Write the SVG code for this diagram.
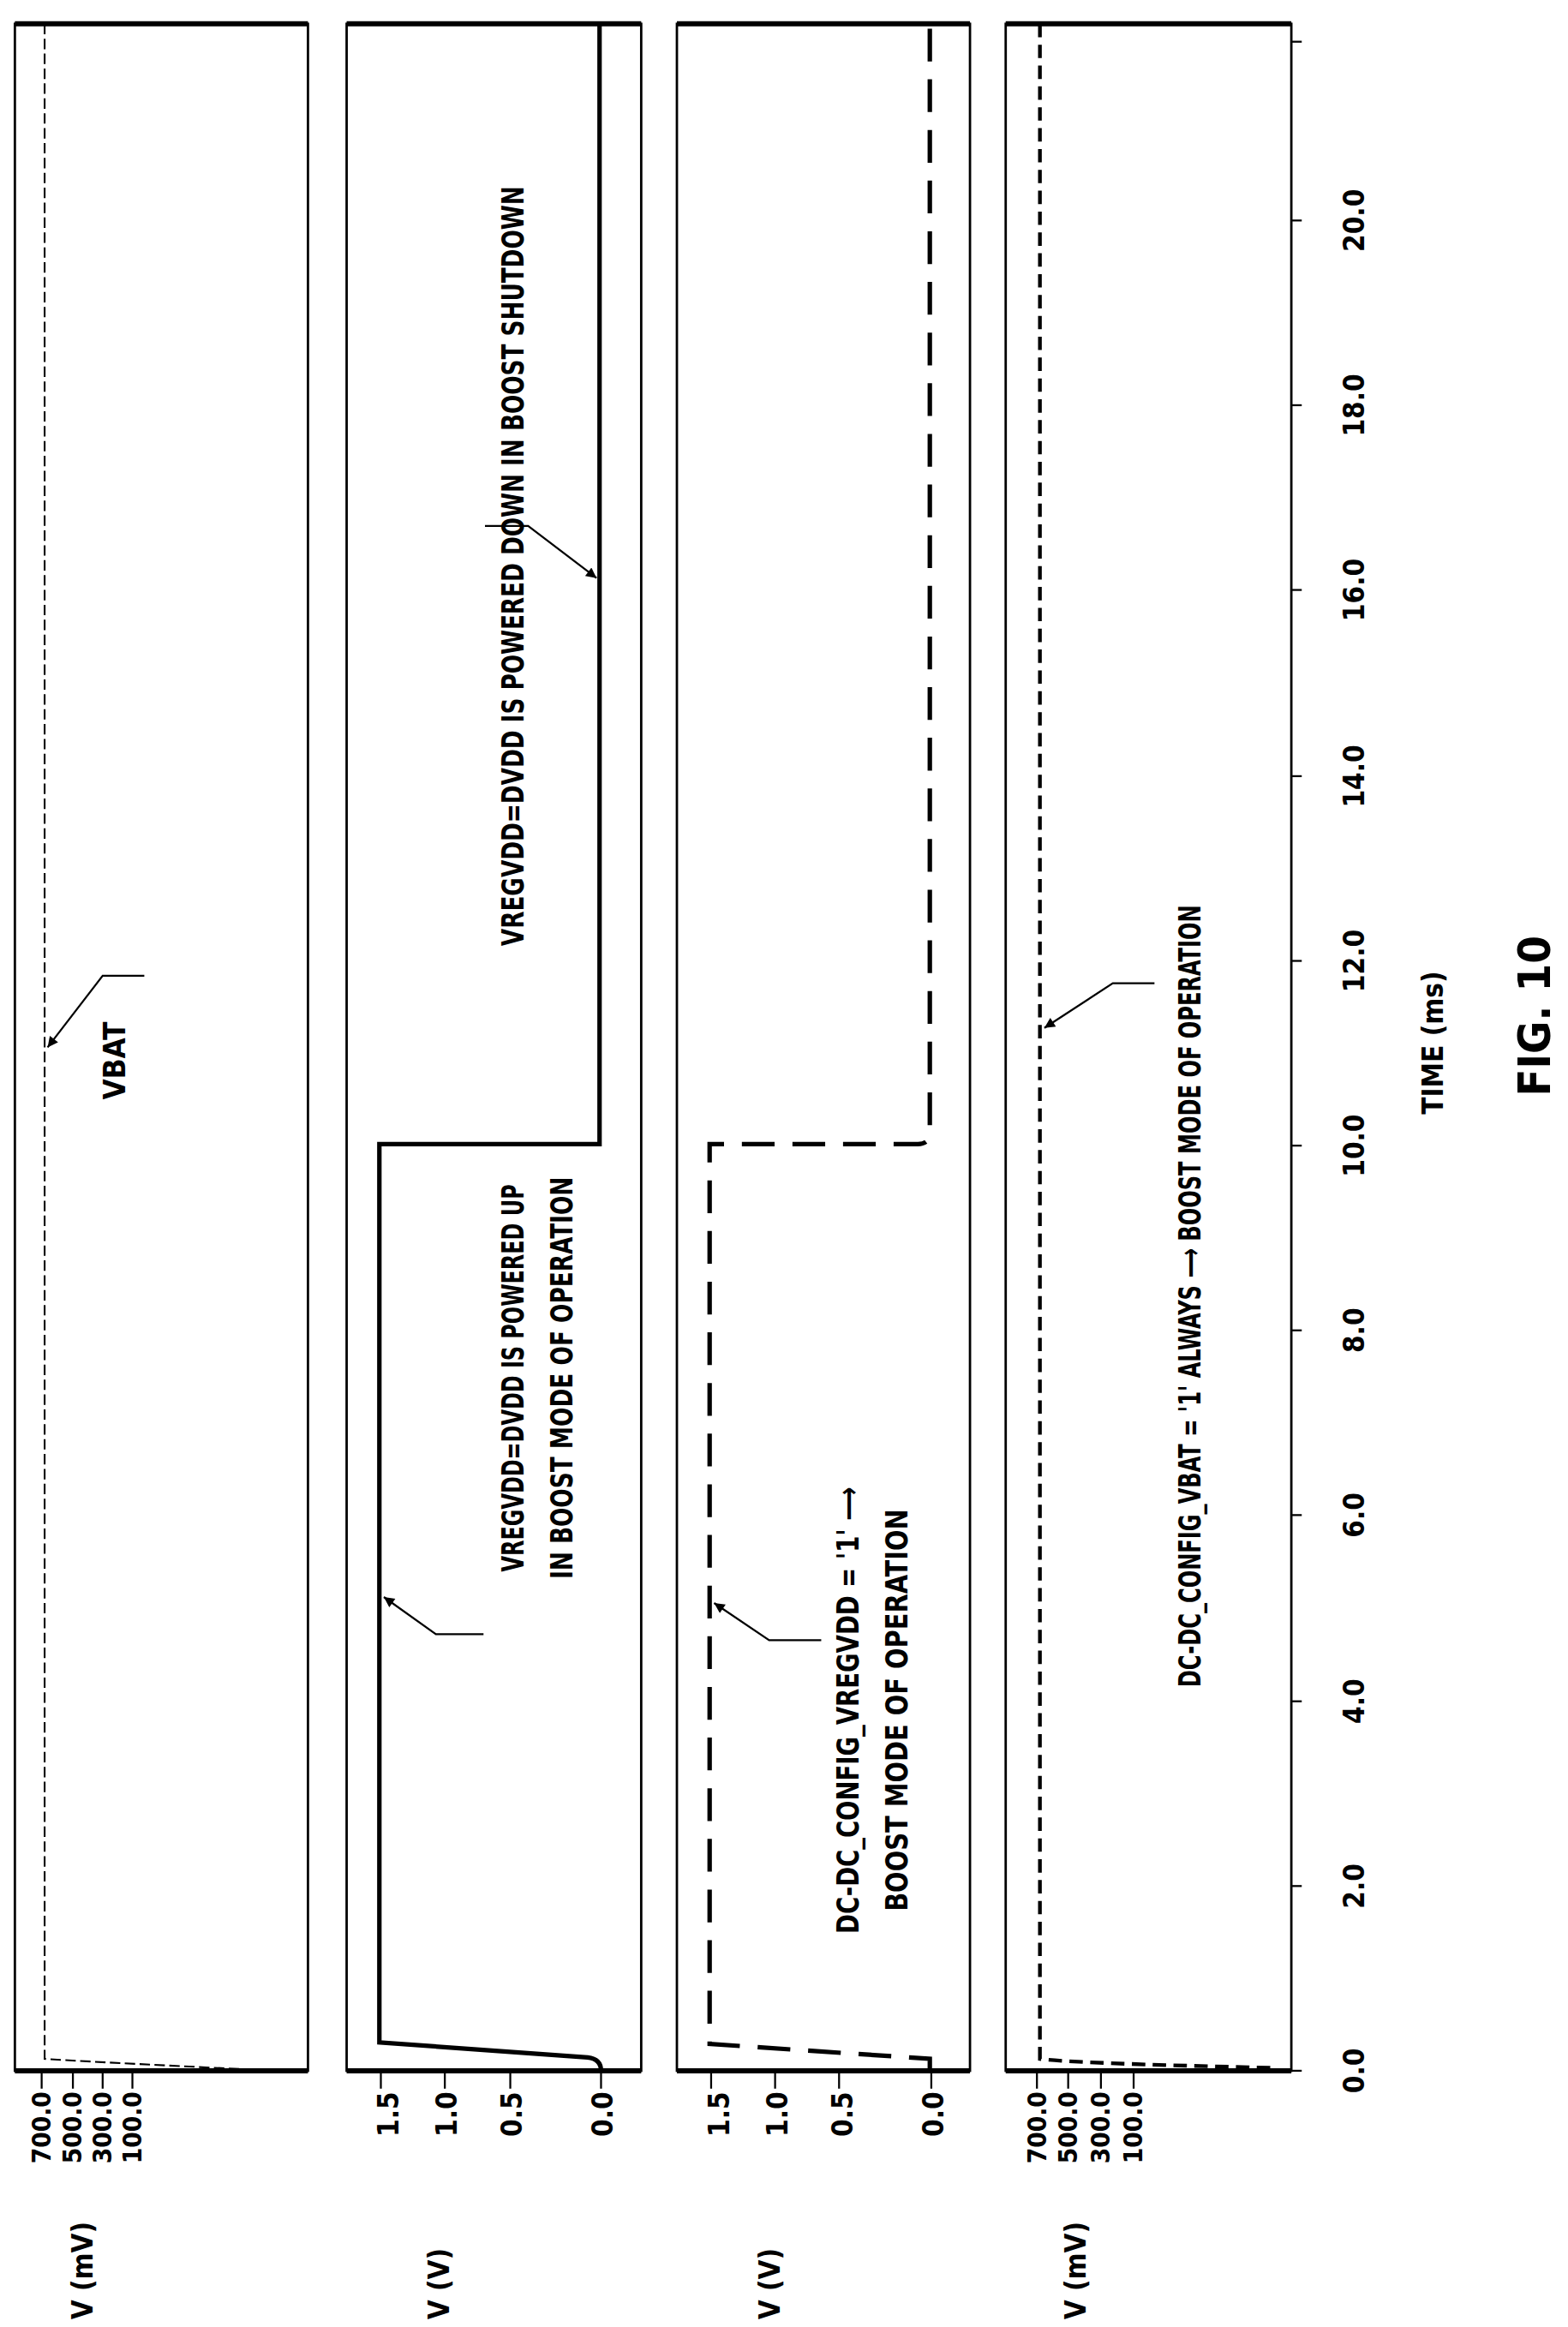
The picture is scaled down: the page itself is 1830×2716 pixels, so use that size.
<svg xmlns="http://www.w3.org/2000/svg" width="1830" height="2716" viewBox="0 0 1830 2716">
<style>
text{font-family:"DejaVu Sans Condensed","DejaVu Sans","Liberation Sans",sans-serif;font-weight:bold;fill:#000}
.t{font-size:19px}
.s{font-size:17px}
.l{font-size:20px}
.frame{fill:none;stroke:#000;stroke-width:1.6}
.edge{stroke:#000;stroke-width:3.5}
.tick{stroke:#000;stroke-width:1.3}
.lead{fill:none;stroke:#000;stroke-width:1.3}
</style>
<defs>
<marker id="ah" viewBox="0 0 10 10" refX="10" refY="5" markerWidth="9" markerHeight="7" orient="auto" markerUnits="userSpaceOnUse"><path d="M0,0 L10,5 L0,10 z" fill="#000"/></marker>
</defs>
<rect width="1830" height="2716" fill="#fff"/>
<g transform="scale(1.7363,1.7388)">
<g id="panel1">
<rect class="frame" x="10" y="16" width="197" height="1374"/>
<line class="edge" x1="10" y1="16" x2="207" y2="16"/><line class="edge" x1="10" y1="1390" x2="207" y2="1390"/>
<path d="M30,16 V1382 Q60,1384 165,1389" fill="none" stroke="#000" stroke-width="1.2" stroke-dasharray="7,3"/>
<g class="tick"><line x1="28" y1="1390" x2="28" y2="1402"/><line x1="49" y1="1390" x2="49" y2="1402"/><line x1="69" y1="1390" x2="69" y2="1402"/><line x1="89" y1="1390" x2="89" y2="1402"/></g>
<g class="s" text-anchor="end"><text transform="translate(34,1404) rotate(-90)">700.0</text><text transform="translate(55,1404) rotate(-90)">500.0</text><text transform="translate(75,1404) rotate(-90)">300.0</text><text transform="translate(95,1404) rotate(-90)">100.0</text></g>
<text class="t" transform="translate(62,1557) rotate(-90)">V (mV)</text>
<text class="l" text-anchor="middle" transform="translate(84,712) rotate(-90)">VBAT</text>
</g>
<g id="panel2">
<rect class="frame" x="233" y="16" width="198" height="1374"/>
<line class="edge" x1="233" y1="16" x2="431" y2="16"/><line class="edge" x1="233" y1="1390" x2="431" y2="1390"/>
<path d="M404,1390 Q404,1382 395,1381 L255,1371 V768 H403 V16" fill="none" stroke="#000" stroke-width="3"/>
<g class="tick"><line x1="256" y1="1390" x2="256" y2="1402"/><line x1="299" y1="1390" x2="299" y2="1402"/><line x1="343" y1="1390" x2="343" y2="1402"/><line x1="404" y1="1390" x2="404" y2="1402"/></g>
<g class="t" text-anchor="end"><text transform="translate(268,1404) rotate(-90)">1.5</text><text transform="translate(307,1404) rotate(-90)">1.0</text><text transform="translate(351,1404) rotate(-90)">0.5</text><text transform="translate(412,1404) rotate(-90)">0.0</text></g>
<text class="t" transform="translate(302,1557) rotate(-90)">V (V)</text>
<text class="l" text-anchor="middle" transform="translate(352,925) rotate(-90)" textLength="260" lengthAdjust="spacingAndGlyphs">VREGVDD=DVDD IS POWERED UP</text>
<text class="l" text-anchor="middle" transform="translate(385,925) rotate(-90)" textLength="270" lengthAdjust="spacingAndGlyphs">IN BOOST MODE OF OPERATION</text>
<text class="l" text-anchor="middle" transform="translate(352,380) rotate(-90)" textLength="510" lengthAdjust="spacingAndGlyphs">VREGVDD=DVDD IS POWERED DOWN IN BOOST SHUTDOWN</text>
</g>
<g id="panel3">
<rect class="frame" x="455" y="16" width="197" height="1374"/>
<line class="edge" x1="455" y1="16" x2="652" y2="16"/><line class="edge" x1="455" y1="1390" x2="652" y2="1390"/>
<path d="M625,1390 V1382 L477,1372 V768 H617 Q625,768 625,760 V16" fill="none" stroke="#000" stroke-width="3" stroke-dasharray="22,12"/>
<g class="tick"><line x1="478" y1="1390" x2="478" y2="1402"/><line x1="521" y1="1390" x2="521" y2="1402"/><line x1="564" y1="1390" x2="564" y2="1402"/><line x1="626" y1="1390" x2="626" y2="1402"/></g>
<g class="t" text-anchor="end"><text transform="translate(490,1404) rotate(-90)">1.5</text><text transform="translate(529,1404) rotate(-90)">1.0</text><text transform="translate(573,1404) rotate(-90)">0.5</text><text transform="translate(634,1404) rotate(-90)">0.0</text></g>
<text class="t" transform="translate(524,1557) rotate(-90)">V (V)</text>
<text class="l" text-anchor="middle" transform="translate(577,1148) rotate(-90)" textLength="300" lengthAdjust="spacingAndGlyphs">DC-DC_CONFIG_VREGVDD = '1' ⟶</text>
<text class="l" text-anchor="middle" transform="translate(610,1148) rotate(-90)" textLength="270" lengthAdjust="spacingAndGlyphs">BOOST MODE OF OPERATION</text>
</g>
<g id="panel4">
<rect class="frame" x="676" y="16" width="192" height="1374"/>
<line class="edge" x1="676" y1="16" x2="868" y2="16"/><line class="edge" x1="676" y1="1390" x2="868" y2="1390"/>
<path d="M699,16 V1382 Q720,1385 855,1388" fill="none" stroke="#000" stroke-width="2.5" stroke-dasharray="9,5"/>
<g class="tick"><line x1="697" y1="1390" x2="697" y2="1402"/><line x1="718" y1="1390" x2="718" y2="1402"/><line x1="740" y1="1390" x2="740" y2="1402"/><line x1="762" y1="1390" x2="762" y2="1402"/></g>
<g class="s" text-anchor="end"><text transform="translate(703,1404) rotate(-90)">700.0</text><text transform="translate(724,1404) rotate(-90)">500.0</text><text transform="translate(746,1404) rotate(-90)">300.0</text><text transform="translate(768,1404) rotate(-90)">100.0</text></g>
<text class="t" transform="translate(730,1557) rotate(-90)">V (mV)</text>
<text class="l" text-anchor="middle" transform="translate(807,870) rotate(-90)" textLength="525" lengthAdjust="spacingAndGlyphs">DC-DC_CONFIG_VBAT = '1' ALWAYS ⟶  BOOST MODE OF OPERATION</text>
</g>
<g id="time-axis">
<g class="tick" stroke-width="1.6"><line x1="868" y1="1390" x2="875" y2="1390"/><line x1="868" y1="1266" x2="875" y2="1266"/><line x1="868" y1="1142" x2="875" y2="1142"/><line x1="868" y1="1017" x2="875" y2="1017"/><line x1="868" y1="893" x2="875" y2="893"/><line x1="868" y1="769" x2="875" y2="769"/><line x1="868" y1="645" x2="875" y2="645"/><line x1="868" y1="521" x2="875" y2="521"/><line x1="868" y1="396" x2="875" y2="396"/><line x1="868" y1="272" x2="875" y2="272"/><line x1="868" y1="148" x2="875" y2="148"/><line x1="868" y1="28" x2="875" y2="28"/></g>
<g class="t" text-anchor="middle"><text transform="translate(917,1390) rotate(-90)">0.0</text><text transform="translate(917,1266) rotate(-90)">2.0</text><text transform="translate(917,1142) rotate(-90)">4.0</text><text transform="translate(917,1017) rotate(-90)">6.0</text><text transform="translate(917,893) rotate(-90)">8.0</text><text transform="translate(917,769) rotate(-90)">10.0</text><text transform="translate(917,645) rotate(-90)">12.0</text><text transform="translate(917,521) rotate(-90)">14.0</text><text transform="translate(917,396) rotate(-90)">16.0</text><text transform="translate(917,272) rotate(-90)">18.0</text><text transform="translate(917,148) rotate(-90)">20.0</text></g>
<text class="t" text-anchor="middle" transform="translate(970,700) rotate(-90)">TIME (ms)</text>
<text text-anchor="middle" font-size="30" transform="translate(1042,682) rotate(-90)">FIG. 10</text>
</g>
<g id="connectors">
<polyline class="lead" points="97,655 69,655 32,703" marker-end="url(#ah)"/>
<polyline class="lead" points="325,1097 293,1097 258,1072" marker-end="url(#ah)"/>
<polyline class="lead" points="326,353 355,353 401,388" marker-end="url(#ah)"/>
<polyline class="lead" points="552,1101 517,1101 480,1076" marker-end="url(#ah)"/>
<polyline class="lead" points="776,660 748,660 702,690" marker-end="url(#ah)"/>
</g>
</g>
</svg>
